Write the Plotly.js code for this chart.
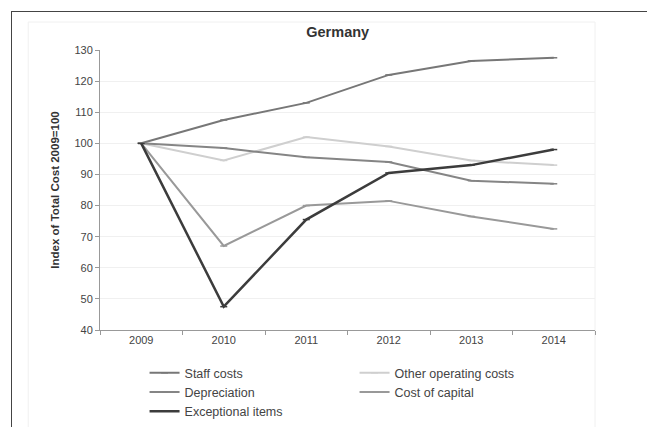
<!DOCTYPE html>
<html><head><meta charset="utf-8">
<script src="https://cdn.plot.ly/plotly-3.0.1.min.js"></script>
<style>body{margin:0;background:#fff}#wrap{position:relative;width:647px;height:427px;overflow:hidden}
#frame{position:absolute;left:11px;top:11px;width:700px;height:500px;border:1px solid #444;pointer-events:none}</style>
</head><body><div id="wrap"><div id="chart" style="width:647px;height:427px"></div><div id="frame"></div></div>
<script>
const years = ['2009','2010','2011','2012','2013','2014'];
const staffCosts = [100, 107.5, 113, 122, 126.5, 127.5];
const otherOperatingCosts = [100, 94.5, 102, 99, 94.5, 93];
const depreciation = [100, 98.5, 95.5, 94, 88, 87];
const costOfCapital = [100, 67, 80, 81.5, 76.5, 72.5];
const exceptionalItems = [100, 47.5, 75.5, 90.5, 93, 98];

function tr(name, y, color, width){
  return {x: years, y: y, name: name, type:'scatter', mode:'lines+markers',
    line:{color:color, width:width}, marker:{symbol:'line-ew-open', size:5, color:color, line:{color:color,width:1.5}}};
}
const data = [
  tr('Staff costs', staffCosts, '#777777', 2),
  tr('Other operating costs', otherOperatingCosts, '#cfcfcf', 2),
  tr('Depreciation', depreciation, '#858585', 2),
  tr('Cost of capital', costOfCapital, '#999999', 2),
  tr('Exceptional items', exceptionalItems, '#3c3c3c', 2.5)
];
const layout = {
  width:647, height:427,
  margin:{l:100, r:52, t:50, b:97, autoexpand:false},
  paper_bgcolor:'#ffffff', plot_bgcolor:'#ffffff',
  font:{family:'Liberation Sans, Arial, sans-serif', size:11, color:'#333'},
  title:{text:'<b>Germany</b>', x:0.522, xanchor:'center', y:0.925, yanchor:'middle', font:{size:14.5, color:'#333'}},
  xaxis:{type:'category', range:[-0.5,5.5], showline:true, linecolor:'#999', linewidth:1,
    ticks:'outside', ticklen:4, tickcolor:'#999', tickson:'boundaries', showgrid:false,
    tickfont:{size:11, color:'#444'}},
  yaxis:{range:[40,130], dtick:10, showline:true, linecolor:'#999', linewidth:1,
    ticks:'outside', ticklen:4, tickcolor:'#999', gridcolor:'#f0f0f0', zeroline:false,
    tickfont:{size:11, color:'#444'},
    title:{text:'<b>Index of Total Cost 2009=100</b>', font:{size:11.5, color:'#333'}, standoff:12}},
  showlegend:true,
  legend:{orientation:'h', x:0.09, xanchor:'left', y:-0.1, yanchor:'top', entrywidth:165, entrywidthmode:'pixels',
    font:{size:12.5, color:'#444'}, tracegroupgap:0, itemwidth:30, traceorder:'normal', bgcolor:'rgba(0,0,0,0)'},
  shapes:[{type:'rect', xref:'paper', yref:'paper', x0:-0.145, x1:1.0, y0:-0.4, y1:1.1, line:{color:'#f0f0f0', width:1}, fillcolor:'rgba(0,0,0,0)', layer:'below'}]
};
Plotly.newPlot('chart', data, layout, {displayModeBar:false, staticPlot:true});
</script></body></html>
